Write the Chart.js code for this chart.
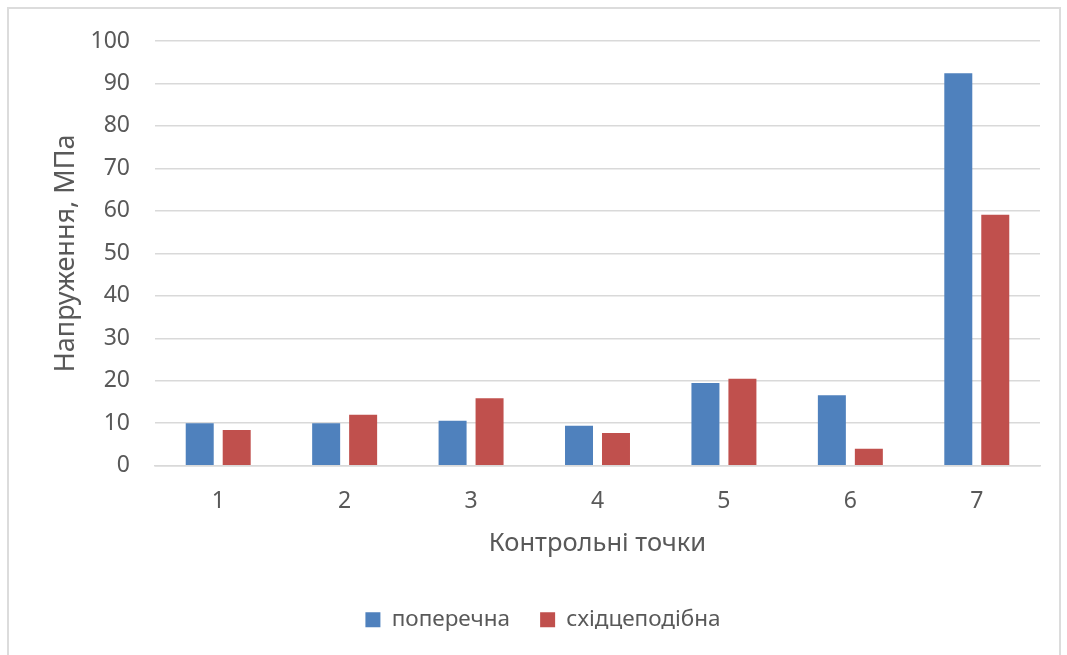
<!DOCTYPE html>
<html>
<head>
<meta charset="utf-8">
<script src="https://cdn.jsdelivr.net/npm/chart.js@4.4.1/dist/chart.umd.min.js"></script>
<style>
  html, body { margin: 0; padding: 0; background: #ffffff; overflow: hidden; }
  #frame {
    position: absolute; left: 7px; top: 7px; width: 1054px; height: 700px;
    border: 2px solid #dcdcdc; box-sizing: border-box;
  }
  #wrap { position: absolute; left: 0; top: 0; width: 1067px; height: 655px; }
</style>
</head>
<body>
<div id="frame"></div>
<div id="wrap"><canvas id="chart" width="1067" height="655"></canvas></div>
<script>
// Control points along the structure
const categories = ['1', '2', '3', '4', '5', '6', '7'];
// Stress for each reinforcement scheme, MPa
const poperechna = [10.0, 10.0, 10.6, 9.4, 19.5, 16.6, 92.4];
const skhidtsepodibna = [8.4, 12.0, 15.9, 7.7, 20.5, 4.0, 59.1];
const seriesNames = ['поперечна', 'східцеподібна'];
const yTicks = { min: 0, max: 100, step: 10 };

const textColor = '#595959';
const gridColor = '#d9d9d9';
const fontFamily = '"Noto Sans", "DejaVu Sans", sans-serif';

new Chart(document.getElementById('chart'), {
  type: 'bar',
  data: {
    labels: categories,
    datasets: [
      { label: seriesNames[0], data: poperechna, backgroundColor: '#4f81bd' },
      { label: seriesNames[1], data: skhidtsepodibna, backgroundColor: '#c0504d' }
    ]
  },
  options: {
    responsive: false,
    animation: false,
    devicePixelRatio: 1,
    layout: { padding: { left: 46, right: 27, top: 41, bottom: 14 } },
    datasets: { bar: { categoryPercentage: 0.585, barPercentage: 0.757 } },
    plugins: {
      tooltip: { enabled: false },
      legend: {
        position: 'bottom',
        labels: {
          color: textColor,
          font: { family: fontFamily, size: 22.5 },
          boxWidth: 15,
          boxHeight: 15,
          padding: 30
        }
      }
    },
    scales: {
      x: {
        grid: { display: false },
        border: { display: true, color: gridColor, width: 1.5 },
        ticks: { color: textColor, font: { family: fontFamily, size: 23 }, padding: 14 },
        title: {
          display: true,
          text: 'Контрольні точки',
          color: textColor,
          font: { family: fontFamily, size: 25.5 },
          padding: { top: 0, bottom: 19 }
        },
        afterFit(scale) { scale.height = 112.8; }
      },
      y: {
        min: yTicks.min,
        max: yTicks.max,
        grid: { color: gridColor, lineWidth: 1.5, drawTicks: false },
        border: { display: false },
        ticks: {
          stepSize: yTicks.step,
          color: textColor,
          font: { family: fontFamily, size: 23 },
          padding: 25
        },
        title: {
          display: true,
          text: 'Напруження, МПа',
          color: textColor,
          font: { family: fontFamily, size: 27 },
          padding: { top: 4, bottom: 0 }
        },
        afterFit(scale) { scale.width = 109; }
      }
    }
  }
});
</script>
</body>
</html>
